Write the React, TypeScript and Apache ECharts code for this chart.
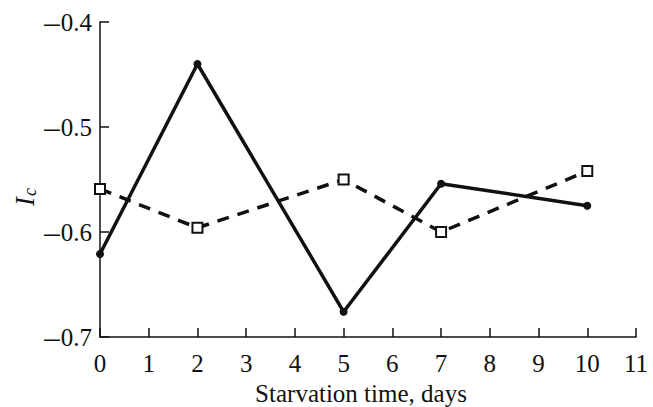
import React, { useEffect, useRef } from "react";
import * as echarts from "echarts";

const days = [0, 2, 5, 7, 10];
const solidValues = [-0.621, -0.44, -0.676, -0.554, -0.575];
const dashedValues = [-0.559, -0.596, -0.55, -0.6, -0.542];
const xTicks = [0, 1, 2, 3, 4, 5, 6, 7, 8, 9, 10, 11];
const yTicks = [-0.7, -0.6, -0.5, -0.4];

const FONT = "Liberation Serif";

export default function App() {
  const ref = useRef<HTMLDivElement>(null);
  useEffect(() => {
    if (!ref.current) return;
    const chart = echarts.init(ref.current, null, { renderer: "svg" });
    chart.setOption({
      animation: false,
      backgroundColor: "#ffffff",
      grid: { left: 100, right: 17, top: 22, bottom: 70, containLabel: false, outerBoundsMode: "none" },
      xAxis: {
        type: "value",
        min: xTicks[0],
        max: xTicks[xTicks.length - 1],
        interval: 1,
        name: "Starvation time, days",
        nameLocation: "middle",
        nameGap: 37,
        nameTextStyle: { fontFamily: FONT, fontSize: 25, lineHeight: 25, color: "#111", padding: [0, 14, 0, 0] },
        axisLine: { show: true, onZero: false, lineStyle: { color: "#111", width: 1.5 } },
        axisTick: { show: true, inside: true, length: 9, lineStyle: { color: "#111", width: 1.5 } },
        axisLabel: { fontFamily: FONT, fontSize: 25, color: "#111", margin: 14 },
        splitLine: { show: false },
      },
      yAxis: {
        type: "value",
        min: yTicks[0],
        max: yTicks[yTicks.length - 1],
        interval: 0.1,
        axisLine: { show: true, onZero: false, lineStyle: { color: "#111", width: 1.5 } },
        axisTick: { show: true, inside: true, length: 9, lineStyle: { color: "#111", width: 1.5 } },
        axisLabel: {
          fontFamily: FONT,
          fontSize: 25,
          color: "#111",
          margin: 8,
          formatter: (v: number) =>
            v < 0 ? "{m|\u2013}{n|" + Math.abs(v).toFixed(1) + "}" : "{n|" + v.toFixed(1) + "}",
          rich: {
            m: { fontFamily: FONT, fontSize: 31, color: "#111", padding: [0, 1, 0, 0] },
            n: { fontFamily: FONT, fontSize: 25, color: "#111" },
          },
        },
        splitLine: { show: false },
      },
      graphic: [
        {
          type: "text",
          x: 25,
          y: 197,
          rotation: Math.PI / 2,
          style: {
            text: "{i|I}{s|c}",
            align: "center",
            verticalAlign: "middle",
            rich: {
              i: { fontFamily: FONT, fontStyle: "italic", fontSize: 27, fill: "#111" },
              s: { fontFamily: FONT, fontStyle: "italic", fontSize: 18, fill: "#111", padding: [10, 0, 0, 1] },
            },
          },
        },
      ],
      series: [
        {
          type: "line",
          data: days.map((d, i) => [d, solidValues[i]]),
          lineStyle: { color: "#111", width: 3.5 },
          symbol: "circle",
          symbolSize: 8,
          itemStyle: { color: "#111" },
          z: 3,
        },
        {
          type: "line",
          data: days.map((d, i) => [d, dashedValues[i]]),
          lineStyle: { color: "#111", width: 3.5, type: [12, 9] },
          symbol: "rect",
          symbolSize: 10,
          itemStyle: { color: "#fff", borderColor: "#111", borderWidth: 2 },
          z: 2,
        },
      ],
    });
    return () => chart.dispose();
  }, []);
  return (
    <div
      ref={ref}
      style={{ position: "absolute", left: 0, top: 0, width: 653, height: 407 }}
    />
  );
}
